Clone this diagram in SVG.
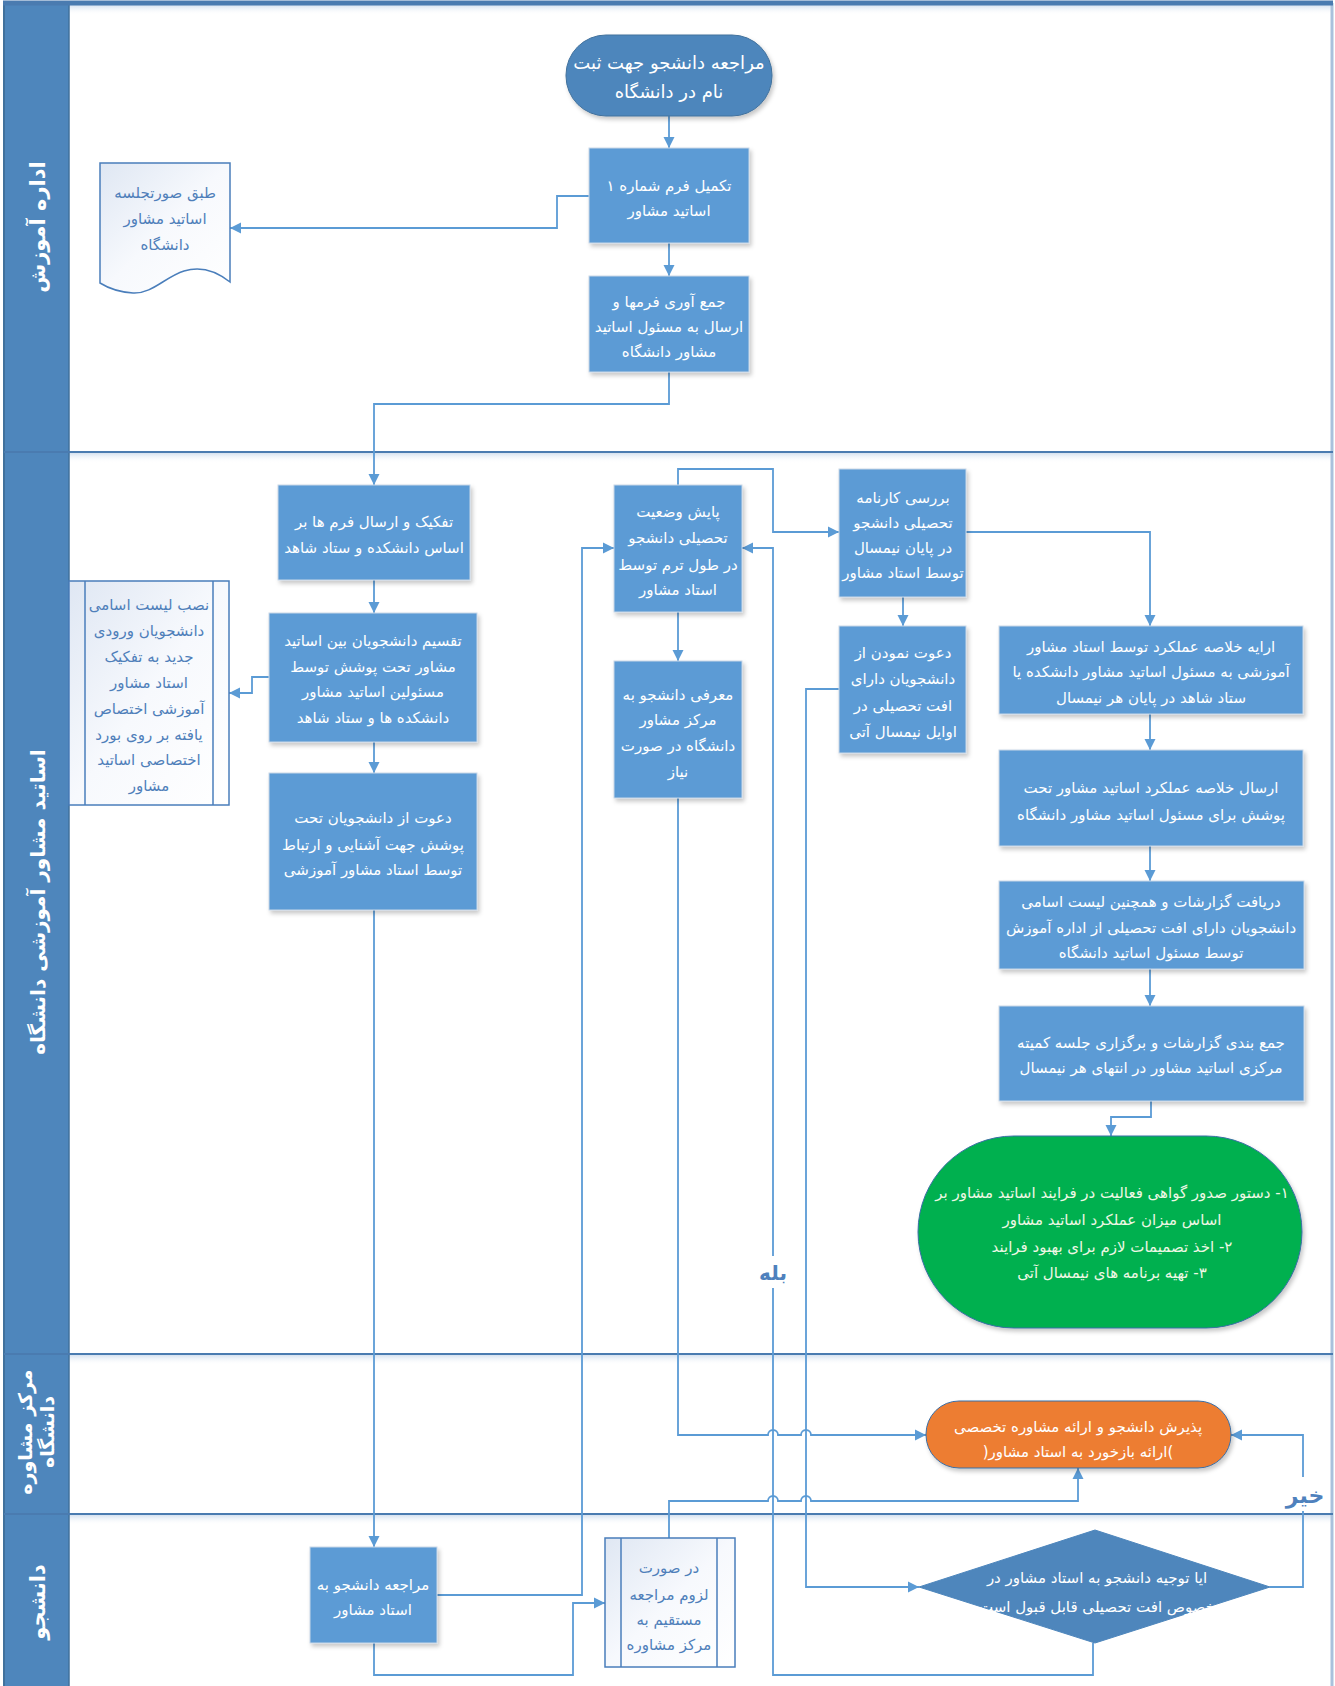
<svg xmlns="http://www.w3.org/2000/svg" width="1335" height="1686" viewBox="0 0 1335 1686">
<style>
.t{font-family:"DejaVu Sans",sans-serif;font-size:15px;fill:#ffffff;text-anchor:middle;direction:rtl}
.tb{font-family:"DejaVu Sans",sans-serif;font-size:15px;fill:#4f7fba;text-anchor:middle;direction:rtl}
.hdr{font-family:"DejaVu Sans",sans-serif;font-size:21px;font-weight:bold;fill:#ffffff;text-anchor:middle;direction:rtl}
.lbl{font-family:"DejaVu Sans",sans-serif;font-size:20px;font-weight:bold;fill:#4f81bd;text-anchor:middle;direction:rtl}
.box{fill:#5b9bd5;stroke:#c9d7e7;stroke-width:1;filter:url(#sh)}
.dark{fill:#4e86bc;stroke:#41719c;stroke-width:1}
.ann{fill:url(#ag);stroke:#4a7ebb;stroke-width:1.5}
.conn{fill:none;stroke:#5b9bd5;stroke-width:1.8}
.arr{marker-end:url(#ah)}
.ln{stroke:#4a7bb0;stroke-width:2}
</style>
<defs>
<marker id="ah" markerWidth="12" markerHeight="12" refX="11" refY="6" orient="auto" markerUnits="userSpaceOnUse"><path d="M0,0.5 L11,6 L0,11.5 z" fill="#5b9bd5"/></marker>
<filter id="sh" x="-10%" y="-10%" width="130%" height="130%"><feDropShadow dx="2" dy="3" stdDeviation="2" flood-color="#000" flood-opacity="0.22"/></filter>
<linearGradient id="ag" x1="0" y1="0" x2="1" y2="1"><stop offset="0" stop-color="#dfe7f3"/><stop offset="0.5" stop-color="#f7f9fd"/><stop offset="1" stop-color="#ffffff"/></linearGradient>
<linearGradient id="lsh" x1="0" y1="0" x2="0" y2="1"><stop offset="0" stop-color="#d5e1ef"/><stop offset="1" stop-color="#ffffff" stop-opacity="0"/></linearGradient>
</defs>
<rect x="0" y="0" width="1335" height="1686" fill="#ffffff"/>
<g id="lanes">
<rect x="69" y="5" width="1264" height="10" fill="url(#lsh)"/>
<rect x="69" y="453" width="1264" height="10" fill="url(#lsh)"/>
<rect x="69" y="1355" width="1264" height="10" fill="url(#lsh)"/>
<rect x="69" y="1515" width="1264" height="10" fill="url(#lsh)"/>
<rect x="4" y="3" width="65" height="1683" fill="#4e86bc"/>
<line x1="69" y1="3" x2="69" y2="1686" stroke="#41719c" stroke-width="1.5"/>
<line x1="4" y1="3" x2="4" y2="1686" stroke="#41719c" stroke-width="2"/>
<line x1="1332" y1="3" x2="1332" y2="1686" stroke="#a9c1dc" stroke-width="3"/>
<line x1="3" y1="3" x2="1333" y2="3" stroke="#4a7bb0" stroke-width="5"/>
<line class="ln" x1="4" y1="452" x2="1333" y2="452"/>
<line class="ln" x1="4" y1="1354" x2="1333" y2="1354"/>
<line class="ln" x1="4" y1="1514" x2="1333" y2="1514"/>
<g transform="translate(37,227) rotate(-90)"><text class="hdr" x="0" y="8">اداره آموزش</text></g>
<g transform="translate(37,902) rotate(-90)"><text class="hdr" x="0" y="8" style="font-size:20px">اساتید مشاور آموزشی دانشگاه</text></g>
<g transform="translate(37,1432) rotate(-90)"><text class="hdr" x="0" y="-5" style="font-size:19px">مرکز مشاوره</text><text class="hdr" x="0" y="17" style="font-size:19px">دانشگاه</text></g>
<g transform="translate(37,1602) rotate(-90)"><text class="hdr" x="0" y="8">دانشجو</text></g>
</g>
<g id="connectors">
<path class="conn arr" d="M669,116 V148"/>
<path class="conn arr" d="M669,243 V276"/>
<path class="conn arr" d="M589,196 H557 V228 H230"/>
<path class="conn arr" d="M669,372 V404 H374 V485"/>
<path class="conn arr" d="M374,580 V613"/>
<path class="conn arr" d="M374,742 V773"/>
<path class="conn arr" d="M269,677 H252 V693 H229"/>
<path class="conn arr" d="M374,910 V1547"/>
<path class="conn arr" d="M437,1595 H582 V548 H614"/>
<path class="conn arr" d="M374,1643 V1675 H573 V1603 H605"/>
<path class="conn arr" d="M669,1538 V1501 H768 a5,5 0 0 1 10,0 H801 a5,5 0 0 1 10,0 H1078 V1468"/>
<path class="conn arr" d="M678,485 V469 H773 V532 H839"/>
<path class="conn arr" d="M678,612 V661"/>
<path class="conn arr" d="M678,798 V1435 H768 a5,5 0 0 1 10,0 H801 a5,5 0 0 1 10,0 H926"/>
<path class="conn arr" d="M903,597 V626"/>
<path class="conn arr" d="M966,532 H1150 V626"/>
<path class="conn arr" d="M839,689 H806 V1587 H919"/>
<path class="conn arr" d="M1093,1643 V1675 H773 V548 H742"/>
<path class="conn arr" d="M1270,1587 H1303 V1435 H1231"/>
<path class="conn arr" d="M1150,714 V750"/>
<path class="conn arr" d="M1150,846 V881"/>
<path class="conn arr" d="M1150,969 V1006"/>
<path class="conn arr" d="M1151,1101 V1117 H1111 V1136"/>
<rect x="756" y="1256" width="34" height="32" fill="#ffffff"/>
<text class="lbl" x="773" y="1280">بله</text>
<rect x="1288" y="1477" width="34" height="34" fill="#ffffff"/>
<text class="lbl" x="1305" y="1503" style="font-size:22px">خیر</text>
</g>
<g id="n-start"><rect class="dark" x="566" y="35" width="206" height="81" rx="40" ry="40" filter="url(#sh)"/><text class="t" style="font-size:18px"><tspan x="669" y="69">مراجعه دانشجو جهت ثبت</tspan><tspan x="669" y="98">نام در دانشگاه</tspan></text></g>
<g id="n-form1"><rect class="box" x="589" y="148" width="160" height="95"/><text class="t"><tspan x="669" y="191">تکمیل فرم شماره ۱</tspan><tspan x="669" y="216">اساتید مشاور</tspan></text></g>
<g id="n-collect"><rect class="box" x="589" y="276" width="160" height="96"/><text class="t"><tspan x="669" y="307">جمع آوری فرمها و</tspan><tspan x="669" y="332">ارسال به مسئول اساتید</tspan><tspan x="669" y="357">مشاور دانشگاه</tspan></text></g>
<g id="n-doc"><path class="ann" d="M100,163 H230 V282 C215,270 200,266 184,271 C165,277 152,294 133,293 C118,292 108,288 100,283 Z"/><text class="tb"><tspan x="165" y="198">طبق صورتجلسه</tspan><tspan x="165" y="224">اساتید مشاور</tspan><tspan x="165" y="250">دانشگاه</tspan></text></g>
<g id="n-sort"><rect class="box" x="278" y="485" width="192" height="95"/><text class="t"><tspan x="374" y="527">تفکیک و ارسال فرم ها بر</tspan><tspan x="374" y="553">اساس دانشکده و ستاد شاهد</tspan></text></g>
<g id="n-divide"><rect class="box" x="269" y="613" width="208" height="129"/><text class="t"><tspan x="373" y="646">تقسیم دانشجویان بین اساتید</tspan><tspan x="373" y="672">مشاور تحت پوشش توسط</tspan><tspan x="373" y="697">مسئولین اساتید مشاور</tspan><tspan x="373" y="723">دانشکده ها و ستاد شاهد</tspan></text></g>
<g id="n-invite"><rect class="box" x="269" y="773" width="208" height="137"/><text class="t"><tspan x="373" y="823">دعوت از دانشجویان تحت</tspan><tspan x="373" y="850">پوشش جهت آشنایی و ارتباط</tspan><tspan x="373" y="875">توسط استاد مشاور آموزشی</tspan></text></g>
<g id="n-board"><rect class="ann" x="69" y="581" width="160" height="224"/><line x1="85" y1="581" x2="85" y2="805" stroke="#4a7ebb" stroke-width="1.5"/><line x1="213" y1="581" x2="213" y2="805" stroke="#4a7ebb" stroke-width="1.5"/><text class="tb"><tspan x="149" y="610">نصب لیست اسامی</tspan><tspan x="149" y="636">دانشجویان ورودی</tspan><tspan x="149" y="662">جدید به تفکیک</tspan><tspan x="149" y="688">استاد مشاور</tspan><tspan x="149" y="714">آموزشی اختصاص</tspan><tspan x="149" y="740">یافته بر روی بورد</tspan><tspan x="149" y="765">اختصاصی اساتید</tspan><tspan x="149" y="791">مشاور</tspan></text></g>
<g id="n-monitor"><rect class="box" x="614" y="485" width="128" height="127"/><text class="t"><tspan x="678" y="517">پایش وضعیت</tspan><tspan x="678" y="543">تحصیلی دانشجو</tspan><tspan x="678" y="570">در طول ترم توسط</tspan><tspan x="678" y="595">استاد مشاور</tspan></text></g>
<g id="n-refer"><rect class="box" x="614" y="661" width="128" height="137"/><text class="t"><tspan x="678" y="700">معرفی دانشجو به</tspan><tspan x="678" y="725">مرکز مشاور</tspan><tspan x="678" y="751">دانشگاه در صورت</tspan><tspan x="678" y="777">نیاز</tspan></text></g>
<g id="n-review"><rect class="box" x="839" y="469" width="127" height="128"/><text class="t"><tspan x="903" y="503">بررسی کارنامه</tspan><tspan x="903" y="528">تحصیلی دانشجو</tspan><tspan x="903" y="553">در پایان نیمسال</tspan><tspan x="903" y="578">توسط استاد مشاور</tspan></text></g>
<g id="n-invite2"><rect class="box" x="839" y="626" width="127" height="127"/><text class="t"><tspan x="903" y="658">دعوت نمودن از</tspan><tspan x="903" y="684">دانشجویان دارای</tspan><tspan x="903" y="711">افت تحصیلی در</tspan><tspan x="903" y="737">اوایل نیمسال آتی</tspan></text></g>
<g id="n-summary"><rect class="box" x="999" y="626" width="304" height="88"/><text class="t"><tspan x="1151" y="652">ارایه خلاصه عملکرد توسط استاد مشاور</tspan><tspan x="1151" y="677">آموزشی به مسئول اساتید مشاور دانشکده یا</tspan><tspan x="1151" y="703">ستاد شاهد در پایان هر نیمسال</tspan></text></g>
<g id="n-send"><rect class="box" x="999" y="750" width="304" height="96"/><text class="t"><tspan x="1151" y="793">ارسال خلاصه عملکرد اساتید مشاور تحت</tspan><tspan x="1151" y="820">پوشش برای مسئول اساتید مشاور دانشگاه</tspan></text></g>
<g id="n-receive"><rect class="box" x="999" y="881" width="305" height="88"/><text class="t"><tspan x="1151" y="907">دریافت گزارشات و همچنین لیست اسامی</tspan><tspan x="1151" y="933">دانشجویان دارای افت تحصیلی از اداره آموزش</tspan><tspan x="1151" y="958">توسط مسئول اساتید دانشگاه</tspan></text></g>
<g id="n-committee"><rect class="box" x="999" y="1006" width="305" height="95"/><text class="t"><tspan x="1151" y="1048">جمع بندی گزارشات و برگزاری جلسه کمیته</tspan><tspan x="1151" y="1073">مرکزی اساتید مشاور در انتهای هر نیمسال</tspan></text></g>
<g id="n-end"><rect x="918" y="1136" width="384" height="192" rx="96" ry="96" fill="#00b050" stroke="#3b6ea5" stroke-width="1" filter="url(#sh)"/><text class="t" style="fill:#eef7e4"><tspan x="1112" y="1198">۱- دستور صدور گواهی فعالیت در فرایند اساتید مشاور بر</tspan><tspan x="1112" y="1225">اساس میزان عملکرد اساتید مشاور</tspan><tspan x="1112" y="1252">۲- اخذ تصمیمات لازم برای بهبود فرایند</tspan><tspan x="1112" y="1278">۳- تهیه برنامه های نیمسال آتی</tspan></text></g>
<g id="n-center"><rect x="926" y="1401" width="305" height="67" rx="33" ry="33" fill="#ed7d31" stroke="#3b6ea5" stroke-width="1" filter="url(#sh)"/><text class="t"><tspan x="1078" y="1432">پذیرش دانشجو و ارائه مشاوره تخصصی</tspan><tspan x="1078" y="1457">)ارائه بازخورد به استاد مشاور(</tspan></text></g>
<g id="n-visit"><rect class="box" x="310" y="1547" width="127" height="96"/><text class="t"><tspan x="373" y="1590">مراجعه دانشجو به</tspan><tspan x="373" y="1615">استاد مشاور</tspan></text></g>
<g id="n-direct"><rect class="ann" x="605" y="1538" width="130" height="129"/><line x1="621" y1="1538" x2="621" y2="1667" stroke="#4a7ebb" stroke-width="1.5"/><line x1="717" y1="1538" x2="717" y2="1667" stroke="#4a7ebb" stroke-width="1.5"/><text class="tb"><tspan x="669" y="1573">در صورت</tspan><tspan x="669" y="1600">لزوم مراجعه</tspan><tspan x="669" y="1625">مستقیم به</tspan><tspan x="669" y="1650">مرکز مشاوره</tspan></text></g>
<g id="n-decision"><path d="M919,1587 L1095,1530 L1270,1587 L1095,1643 Z" fill="#4e86bc" stroke="#4e86bc" stroke-width="1"/><text class="t"><tspan x="1097" y="1583">ایا توجیه دانشجو به استاد مشاور در</tspan><tspan x="1097" y="1612">خصوص افت تحصیلی قابل قبول است</tspan></text></g>
</svg>
